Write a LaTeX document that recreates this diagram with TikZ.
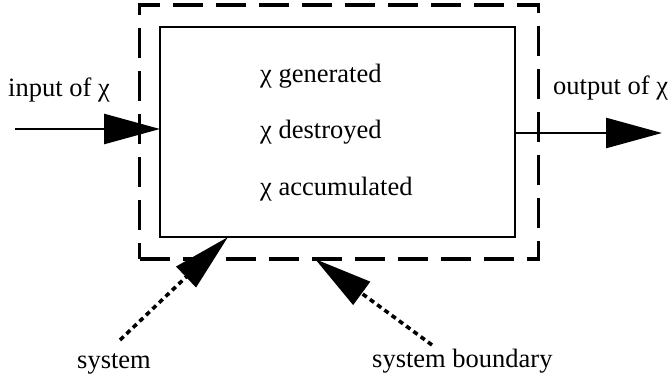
\documentclass[tikz,border=0pt]{standalone}
\usepackage{fontspec}
\setmainfont{Liberation Serif}
\usetikzlibrary{arrows.meta}
\begin{document}
\begin{tikzpicture}[x=1pt,y=-1pt,
  txt/.style={font=\fontsize{26.5}{30}\selectfont, inner sep=0pt, anchor=base west},
  sysbox/.style={draw, line width=2.8pt, outer sep=0pt, inner sep=0pt, anchor=north west},
  bndbox/.style={draw, line width=3.2pt, dash pattern=on 30pt off 13pt, outer sep=0pt, inner sep=0pt, anchor=north west},
  flow/.style={line width=2.6pt, -{Triangle[length=56pt,width=30pt]}},
  pointer/.style={line width=3.6pt, dash pattern=on 5pt off 4pt, -{Triangle[length=58pt,width=28pt]}}]
  \useasboundingbox (0,0) rectangle (671,382);

  % system and its boundary
  \node[bndbox, minimum width=399pt, minimum height=254pt] (boundary) at (139.5,5) {};
  \node[sysbox, minimum width=355pt, minimum height=210pt] (system) at (160,27) {};

  % contents of the system
  \node[txt] (gen) at (260,83) {χ generated};
  \node[txt] (des) at (260,139) {χ destroyed};
  \node[txt] (acc) at (260,195) {χ accumulated};

  % flows in and out
  \node[txt] (inlbl) at (8,97) {input of χ};
  \node[txt] (outlbl) at (553,95) {output of χ};
  \coordinate (inA) at (15,129);
  \coordinate (outB) at (662,133);
  \draw[flow] (inA) -- (inA -| system.west);
  \draw[flow] (system.east |- outB) -- (outB);

  % pointers to the system and to its boundary
  \node[txt] (syslbl) at (77,368) {system};
  \node[txt] (bndlbl) at (372,367) {system boundary};
  \coordinate (sysA) at (120,340);
  \coordinate (sysT) at (228,237);
  \coordinate (bndA) at (432,345);
  \coordinate (bndT) at (315,259);
  \draw[pointer] (sysA) -- (sysT);
  \draw[pointer] (bndA) -- (bndT);
\end{tikzpicture}
\end{document}
